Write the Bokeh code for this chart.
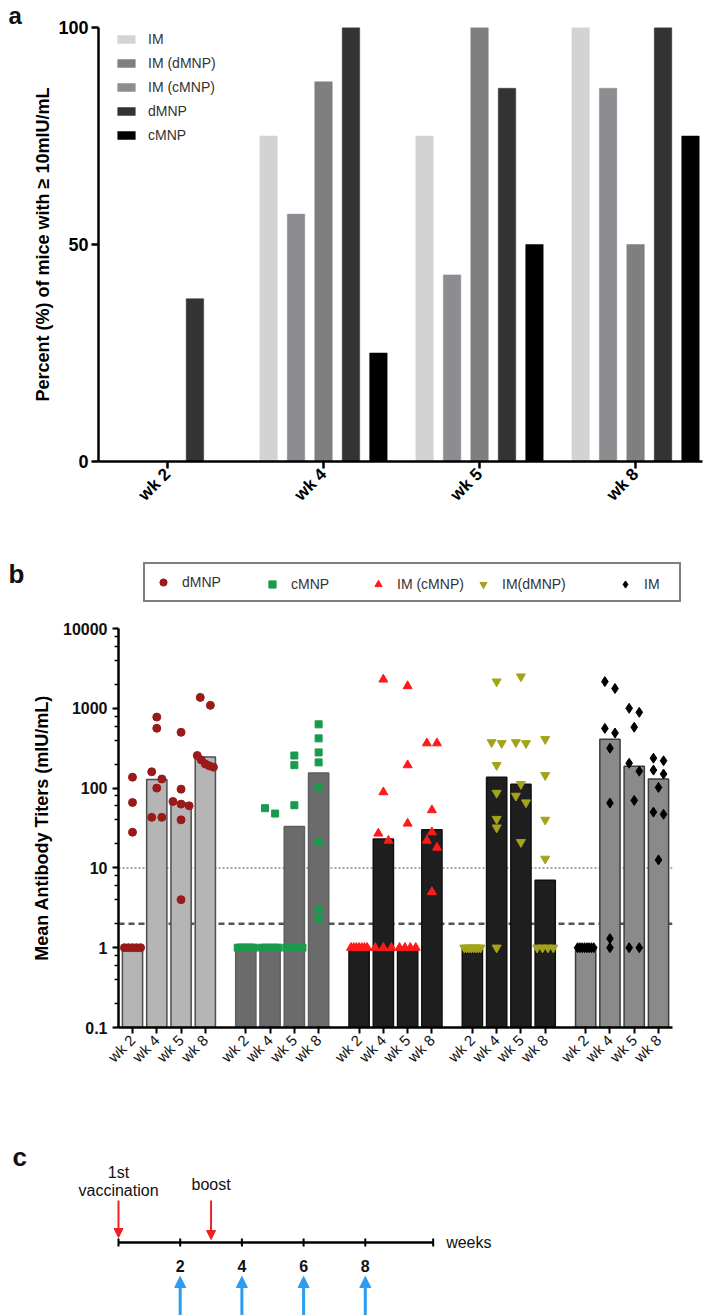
import math
from bokeh.plotting import figure
from bokeh.layouts import column, row
from bokeh.models import (Range1d, FixedTicker, Legend, LegendItem, Span, Label,
                          Arrow, NormalHead, LogTicker, CustomJSTickFormatter)
from bokeh.core.properties import value
from bokeh.embed import file_html
from bokeh.resources import INLINE

FONT = "Liberation Sans"

# ---------------- panel a data: percent of mice with >= 10 mIU/mL ----------------
weeks = ["wk 2", "wk 4", "wk 5", "wk 8"]
a_series = ["IM", "IM (cMNP)", "IM (dMNP)", "dMNP", "cMNP"]   # bar order inside each week
pct_IM = [0, 75, 75, 100]
pct_IM_cMNP = [0, 57, 43, 86]
pct_IM_dMNP = [0, 87.5, 100, 50]
pct_dMNP = [37.5, 100, 86, 100]
pct_cMNP = [0, 25, 50, 75]
a_legend_order = ["IM", "IM (dMNP)", "IM (cMNP)", "dMNP", "cMNP"]

# ---------------- panel b data: antibody titers (mIU/mL) ----------------
b_groups = ["dMNP", "cMNP", "IM (cMNP)", "IM(dMNP)", "IM"]
b_weeks = ["wk 2", "wk 4", "wk 5", "wk 8"]
bar_dMNP = [1, 128, 65, 245]
bar_cMNP = [1, 1, 33, 155]
bar_IM_cMNP = [1, 23, 1, 30]
bar_IM_dMNP = [1, 137, 112, 7]
bar_IM = [1, 410, 188, 130]

pts_dMNP = [
    [137, 66, 28, 1, 1, 1, 1, 1],
    [776, 562, 160, 130, 100, 43, 43],
    [500, 97, 68, 63, 60, 40, 4],
    [1370, 1090, 256, 225, 200, 190, 183],
]
pts_cMNP = [
    [1, 1, 1, 1, 1, 1, 1, 1],
    [56, 48, 1, 1, 1, 1, 1, 1],
    [256, 194, 61, 1, 1, 1, 1],
    [630, 420, 280, 210, 100, 21, 3, 2.3],
]
pts_IM_cMNP = [
    [1, 1, 1, 1, 1, 1, 1],
    [2300, 89, 27, 22, 1, 1, 1],
    [1900, 194, 36, 1, 1, 1, 1],
    [365, 365, 53, 28, 22, 18, 5],
]
pts_IM_dMNP = [
    [1, 1, 1, 1, 1, 1, 1, 1],
    [2160, 375, 365, 194, 87, 41, 32, 1],
    [2500, 375, 365, 112, 80, 66, 21],
    [410, 145, 40, 13, 1, 1, 1, 1],
]
pts_IM = [
    [1, 1, 1, 1, 1, 1, 1, 1],
    [2160, 1770, 560, 490, 316, 65, 1.3, 1],
    [1000, 890, 580, 205, 163, 70, 1, 1],
    [237, 220, 168, 150, 102, 50, 47, 12.6],
]
ref_lines = [10, 2]

# ---------------- panel c data: schedule ----------------
tl_ticks = [0, 2, 4, 6, 8]
tl_end = 10.2
sample_weeks = [2, 4, 6, 8]
vacc_weeks = [0, 3]
vacc_text = [["1st", "vaccination"], ["boost"]]


def blank(width, height, **kw):
    f = figure(width=width, height=height, output_backend="svg", toolbar_location=None,
               min_border=0, frame_align=False, **kw)
    f.axis.visible = False
    f.grid.visible = False
    f.outline_line_color = None
    return f


def panel_letter(fig, letter, x, y, units="screen", size="26px"):
    fig.add_layout(Label(x=x, y=y, x_units=units, y_units=units, text=letter,
                         text_font=FONT, text_font_style="bold", text_font_size=size,
                         text_baseline="bottom", text_color="#111111"))


# ================= panel a =================
la = blank(27, 555, x_range=Range1d(0, 1), y_range=Range1d(0, 1))
panel_letter(la, "a", 8, 527, size="24px")

pa = figure(width=682, height=555, output_backend="svg", toolbar_location=None,
            x_range=Range1d(-0.442, 3.429), y_range=Range1d(0, 100), frame_align=False,
            min_border_left=71, min_border_right=7, min_border_top=27, min_border_bottom=94)
a_vals = [pct_IM, pct_IM_cMNP, pct_IM_dMNP, pct_dMNP, pct_cMNP]
a_colors = ["#d3d3d3", "#8d8d91", "#7f7f7f", "#333333", "#000000"]
a_r = {}
for k, (name, vals, col) in enumerate(zip(a_series, a_vals, a_colors)):
    xs = [i + (k - 2) * 0.176 for i in range(len(weeks))]
    a_r[name] = pa.vbar(x=xs, top=vals, bottom=0, width=0.112,
                        fill_color=col, line_color=col, line_width=0.5)

pa.grid.visible = False
pa.outline_line_color = None
pa.xaxis.ticker = FixedTicker(ticks=list(range(len(weeks))))
pa.xaxis.major_label_overrides = {i: w for i, w in enumerate(weeks)}
pa.xaxis.major_label_orientation = math.pi / 4
pa.yaxis.ticker = FixedTicker(ticks=[0, 50, 100])
pa.yaxis.axis_label = "Percent (%) of mice with \u2265 10mIU/mL"
for ax in [pa.xaxis[0], pa.yaxis[0]]:
    ax.axis_line_width = 2.5
    ax.axis_line_color = "black"
    ax.major_tick_line_width = 2.5
    ax.major_tick_out = 7
    ax.major_tick_in = 0
    ax.minor_tick_line_color = None
    ax.major_label_text_font = FONT
    ax.major_label_text_font_style = "bold"
    ax.major_label_text_font_size = "18px"
    ax.major_label_text_color = "black"
    ax.major_label_standoff = 3
pa.xaxis.major_label_text_font_size = "17px"
pa.yaxis.axis_label_text_font = FONT
pa.yaxis.axis_label_text_font_style = "bold"
pa.yaxis.axis_label_text_font_size = "18px"
pa.yaxis.axis_label_text_color = "black"
pa.yaxis.axis_label_standoff = 2

leg_a = Legend(items=[LegendItem(label=n, renderers=[a_r[n]]) for n in a_legend_order],
               location=(17, 317), padding=0, margin=0, spacing=6,
               glyph_width=22, glyph_height=10, label_height=18, label_standoff=11,
               border_line_color=None, background_fill_alpha=0,
               label_text_font=FONT, label_text_font_size="14px", label_text_color="#333333")
pa.add_layout(leg_a)

# ================= panel b: header with legend =================
markers = ["circle", "square", "triangle", "inverted_triangle", "diamond"]
m_colors = ["#9a1a1a", "#1b9a4e", "#ff1a1a", "#a3a31c", "#000000"]
m_sizes = [8, 7, 9, 9, 10]

hb = blank(709, 55, x_range=Range1d(0, 1), y_range=Range1d(0, 1))
panel_letter(hb, "b", 8, 22)
PAD = 9
leg_common = dict(margin=0, glyph_width=18, glyph_height=18, label_height=18,
                  label_standoff=10, label_text_font=FONT, label_text_font_size="14px",
                  label_text_color="#333333")
leg_x = [143, 254, 360, 465, 607]
for k, name in enumerate(b_groups):
    # legend-only proxy renderer, kept outside the header's visible range
    proxy = hb.scatter(x=[-1], y=[-1], marker=markers[k], size=m_sizes[k],
                       fill_color=m_colors[k], line_color=m_colors[k])
    item = LegendItem(label=name, renderers=[proxy])
    if k == 0:
        lg = Legend(items=[item], location=(leg_x[k], 8), label_width=488, padding=PAD,
                    border_line_color="black", border_line_width=2.5,
                    background_fill_color="white", background_fill_alpha=1, **leg_common)
    else:
        # borderless legends are laid out without padding, so offset them by it
        lg = Legend(items=[item], location=(leg_x[k] + PAD, 8 + PAD), padding=0,
                    border_line_color=None, background_fill_alpha=0, **leg_common)
    hb.add_layout(lg)

# ================= panel b: titers =================
GROUP_STEP, BAR_STEP = 14, 3
pb = figure(width=709, height=510, output_backend="svg", toolbar_location=None,
            y_axis_type="log", x_range=Range1d(-1.73, 66.73), y_range=Range1d(0.1, 10000),
            frame_align=False,
            min_border_left=118, min_border_right=37, min_border_top=18, min_border_bottom=93)
pb.grid.visible = False
pb.outline_line_color = None

pb.add_layout(Span(location=ref_lines[0], dimension="width", line_color="#8a8a8a",
                   line_width=1.5, line_dash="2 2", level="underlay"))
pb.add_layout(Span(location=ref_lines[1], dimension="width", line_color="#555555",
                   line_width=2.5, line_dash="6 4", level="underlay"))

b_bars = [bar_dMNP, bar_cMNP, bar_IM_cMNP, bar_IM_dMNP, bar_IM]
b_pts = [pts_dMNP, pts_cMNP, pts_IM_cMNP, pts_IM_dMNP, pts_IM]
bar_fill = ["#b5b5b5", "#6b6b6b", "#1f1f1f", "#1f1f1f", "#8a8a8a"]
bar_line = ["#4d4d4d", "#5e5e5e", "#111111", "#111111", "#3c3c3c"]


def jitter(vals, step=1.25, max_spread=2.0, thr=0.1):
    order = sorted(range(len(vals)), key=lambda j: -vals[j])
    offs = [0.0] * len(vals)
    clusters, cur = [], [order[0]]
    for j in order[1:]:
        if math.log10(vals[cur[-1]]) - math.log10(vals[j]) < thr:
            cur.append(j)
        else:
            clusters.append(cur)
            cur = [j]
    clusters.append(cur)
    for c in clusters:
        n = len(c)
        if n > 1:
            sp = min(step, max_spread / (n - 1))
            for k, j in enumerate(c):
                offs[j] = (k - (n - 1) / 2) * sp
    return offs


tick_pos, tick_lab = [], {}
for g, name in enumerate(b_groups):
    xs = [g * GROUP_STEP + i * BAR_STEP for i in range(len(b_weeks))]
    for x, w in zip(xs, b_weeks):
        tick_pos.append(x)
        tick_lab[x] = w
    pb.vbar(x=xs, top=b_bars[g], bottom=0.1, width=2.5,
            fill_color=bar_fill[g], line_color=bar_line[g], line_width=1.5)
    px, py = [], []
    for i, vals in enumerate(b_pts[g]):
        offs = jitter(vals)
        px += [xs[i] + o for o in offs]
        py += vals
    pb.scatter(x=px, y=py, marker=markers[g], size=m_sizes[g],
               fill_color=m_colors[g], line_color=m_colors[g])

pb.xaxis.ticker = FixedTicker(ticks=tick_pos)
pb.xaxis.major_label_overrides = tick_lab
pb.xaxis.major_label_orientation = math.pi / 4
pb.yaxis.ticker = LogTicker(mantissas=[1])
pb.yaxis.formatter = CustomJSTickFormatter(code="return tick < 1 ? tick.toFixed(1) : tick.toFixed(0);")
pb.yaxis.axis_label = "Mean Antibody Titers (mIU/mL)"
for ax in [pb.xaxis[0], pb.yaxis[0]]:
    ax.axis_line_width = 2.5
    ax.axis_line_color = "black"
    ax.major_tick_line_width = 2
    ax.major_tick_out = 6
    ax.major_tick_in = 0
    ax.major_label_text_font = FONT
    ax.major_label_text_color = "#111111"
pb.xaxis.minor_tick_line_color = None
pb.xaxis.major_label_text_font_size = "15px"
pb.xaxis.major_label_standoff = 4
pb.yaxis.minor_tick_out = 4
pb.yaxis.minor_tick_in = 0
pb.yaxis.minor_tick_line_width = 1.5
pb.yaxis.major_label_text_font_style = "bold"
pb.yaxis.major_label_text_font_size = "16px"
pb.yaxis.axis_label_text_font = FONT
pb.yaxis.axis_label_text_font_style = "bold"
pb.yaxis.axis_label_text_font_size = "18px"
pb.yaxis.axis_label_text_color = "black"
pb.yaxis.axis_label_standoff = 8

# ================= panel c =================
PX_WK = 30.85
pc = blank(709, 195, x_range=Range1d(-118 / PX_WK, (709 - 118) / PX_WK), y_range=Range1d(-73, 122))
pc.line(x=[0, tl_end], y=[0, 0], line_color="black", line_width=2.5)
tk = tl_ticks + [tl_end]
pc.segment(x0=tk, y0=[-4] * len(tk), x1=tk, y1=[4] * len(tk), line_color="black", line_width=2)
pc.text(x=sample_weeks, y=[-23] * len(sample_weeks), text=[str(w) for w in sample_weeks],
        text_align="center", text_baseline="middle", text_font=value(FONT),
        text_font_style="bold", text_font_size="16px", text_color="#111111")
pc.text(x=[tl_end + 0.42], y=[0], text=["weeks"], text_align="left", text_baseline="middle",
        text_font=value(FONT), text_font_size="16px", text_color="#111111")
for w in sample_weeks:
    pc.add_layout(Arrow(end=NormalHead(size=11, fill_color="#2a9df0", line_color="#2a9df0"),
                        x_start=w, y_start=-74, x_end=w, y_end=-34,
                        line_color="#2a9df0", line_width=3))
vacc_tip = [5, 3]
for w, t in zip(vacc_weeks, vacc_tip):
    pc.add_layout(Arrow(end=NormalHead(size=9, fill_color="#ee2222", line_color="#ee2222"),
                        x_start=w, y_start=42, x_end=w, y_end=t,
                        line_color="#ee2222", line_width=2))
tx, ty, tt = [], [], []
for w, lines in zip(vacc_weeks, vacc_text):
    base = 52 if len(lines) > 1 else 58
    for j, s in enumerate(reversed(lines)):
        tx.append(w)
        ty.append(base + 18 * j)
        tt.append(s)
pc.text(x=tx, y=ty, text=tt, text_align="center", text_baseline="middle",
        text_font=value(FONT), text_font_size="16px", text_color="#111111")
panel_letter(pc, "c", -106 / PX_WK, 71, units="data")

page = column(row(la, pa, spacing=0), hb, pb, pc, spacing=0)
open("out.html", "w").write(file_html(page, INLINE))
